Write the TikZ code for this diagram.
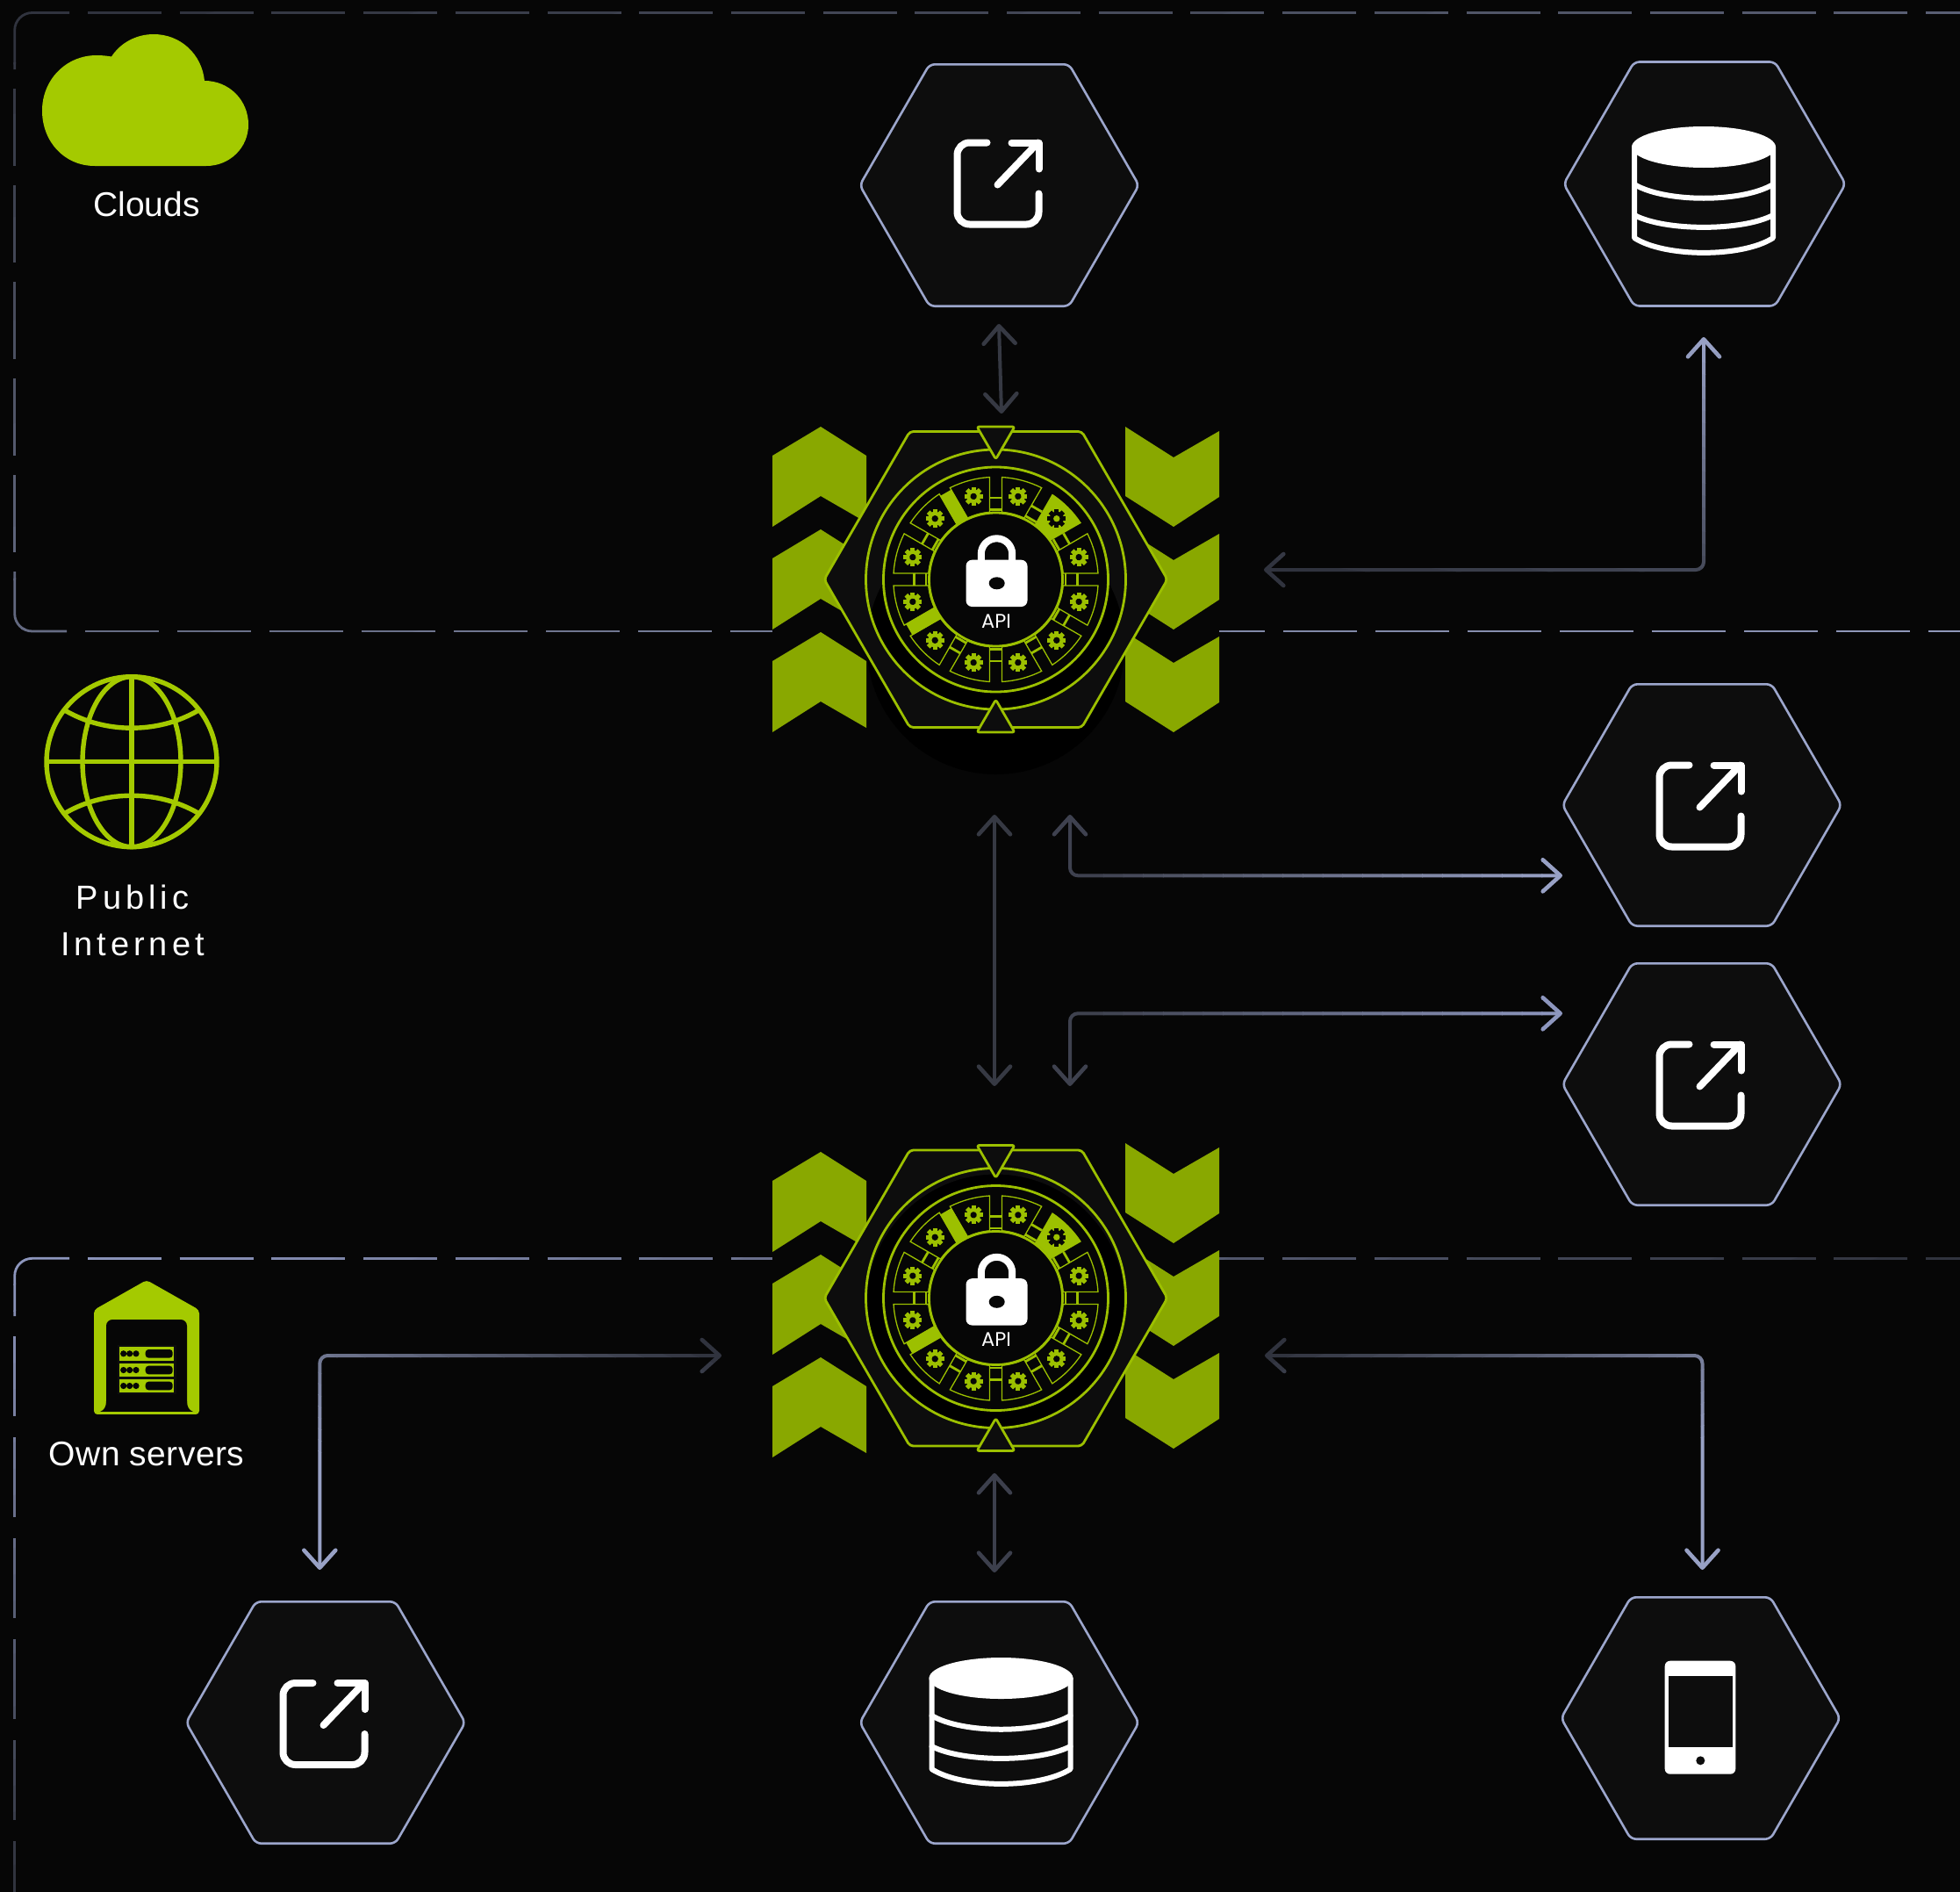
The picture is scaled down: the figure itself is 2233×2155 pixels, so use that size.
\documentclass[tikz,border=0pt]{standalone}
\usepackage{fontspec}
\setmainfont{Liberation Sans}
\newfontfamily\apifont{Poppins}
\usetikzlibrary{arrows.meta,shapes.geometric}
\definecolor{bgc}{HTML}{060606}
\definecolor{hexc}{HTML}{0D0D0D}
\definecolor{hexline}{HTML}{9CA6CC}
\definecolor{lime}{HTML}{A4CA00}
\definecolor{limeline}{HTML}{9CC000}
\definecolor{chev}{HTML}{89A800}
\definecolor{dimc}{HTML}{363943}
\definecolor{dimd}{HTML}{2E313B}
\definecolor{midd}{HTML}{3C3F4C}
\definecolor{bright}{HTML}{9AA3C8}
\definecolor{brightb}{HTML}{8F98C0}
\tikzset{
  hexnode/.style={regular polygon,regular polygon sides=6,minimum size=318pt,inner sep=0pt,outer sep=0pt,draw=hexline,fill=hexc,line width=2.6pt,rounded corners=6pt},
  iconline/.style={draw=white,line width=8pt,line cap=round,line join=round},
  dbline/.style={draw=white,line width=6pt,line cap=round,line join=round},
  conn/.style={line width=4pt,line cap=round,line join=round,rounded corners=9pt,{Straight Barb[length=20pt,width=36pt,line width=4.6pt,round]}-{Straight Barb[length=20pt,width=36pt,line width=4.6pt,round]}},
  frameline/.style={line width=2.8pt,rounded corners=20pt},
  gadgetline/.style={draw=limeline,line width=2.8pt},
  thinline/.style={draw=limeline,line width=1.3pt},
  label/.style={text=white,font=\fontsize{39pt}{39pt}\selectfont,inner sep=0pt,anchor=base},
}
% gradient stroke: strips across the direction (#3,#4) starting at (#1,#2)
\newcommand\gradstroke[8]{%
  \foreach \gi in {0,...,23}{%
    \pgfmathsetmacro\ta{\gi==0 ? -3 : (\gi-0.04)/24}%
    \pgfmathsetmacro\tb{\gi==23 ? 3 : (\gi+1)/24}%
    \pgfmathsetmacro\pc{100*(\gi+0.5)/24}%
    \begin{scope}
      \clip ({#1+\ta*(#3)-6*(#4)},{#2+\ta*(#4)+6*(#3)})
        -- ({#1+\tb*(#3)-6*(#4)},{#2+\tb*(#4)+6*(#3)})
        -- ({#1+\tb*(#3)+6*(#4)},{#2+\tb*(#4)-6*(#3)})
        -- ({#1+\ta*(#3)+6*(#4)},{#2+\ta*(#4)-6*(#3)}) -- cycle;
      \draw[#7,draw={#6!\pc!#5}] #8;
    \end{scope}}%
}
\newcommand\exporticon[2]{%
  \begin{scope}[shift={(#1,#2)}]
    \draw[iconline,rounded corners=14pt] (-13.5,-49) -- (-47.5,-49) -- (-47.5,44) -- (45.5,44) -- (45.5,9);
    \draw[iconline] (-1.5,-1) -- (44.5,-49);
    \draw[iconline] (14.5,-49) -- (45.5,-49) -- (45.5,-19);
  \end{scope}}
\newcommand\dbicon[2]{%
  \begin{scope}[shift={(#1,#2)}]
    \fill[white] (-1,-42) ellipse [x radius=82,y radius=23.5];
    \draw[dbline] (-80,-42) -- (-80,61.5) .. controls (-45,84) and (43,84) .. (78,61.5) -- (78,-42);
    \draw[dbline] (-80,0.5) .. controls (-45,21.5) and (43,21.5) .. (78,0.5);
    \draw[dbline] (-80,35.5) .. controls (-45,54) and (43,54) .. (78,35.5);
  \end{scope}}
\newcommand\gear[3]{% compass angle, colour, hole
  \begin{scope}[rotate=-#1,shift={(0,98)}]
    \fill[#2] (0,0) circle (8);
    \foreach \ga in {0,45,...,315}{\fill[#2,rotate=\ga+#1] (-2.5,6) rectangle (2.5,10.6);}
    \fill[#3] (0,0) circle (3.7);
  \end{scope}}
\newcommand\gadget[6]{% cx, cy, left chevron y, right chevron y, shadow offset, name
  \foreach \cy in {#3,#3+117,#3+234}{%
    \fill[chev] (935,\cy) -- (987,\cy+33) -- (987,\cy+109) -- (935,\cy+79) -- (880,\cy+114) -- (880,\cy+33) -- cycle;}
  \foreach \cy in {#4,#4+117,#4+234}{%
    \fill[chev] (1282,\cy) -- (1337,\cy+35) -- (1389,\cy+5) -- (1389,\cy+80) -- (1337,\cy+114) -- (1282,\cy+79) -- cycle;}
  \begin{scope}[shift={(#1,#2)},y=1pt]
    \draw[gadgetline,fill=hexc,rounded corners=4pt,line join=round] (-195.5,0) -- (-98,168.5) -- (98,168.5) -- (195.5,0) -- (98,-168.5) -- (-98,-168.5) -- cycle;
    \fill[black] (0,0) circle (148);
    \begin{scope}
      \clip (0,0) circle (148);
      \fill[hexc,even odd rule] (0,0) circle (149) (0,-#5) circle (147);
    \end{scope}
    \draw[gadgetline] (0,0) circle (148);
    \draw[gadgetline,fill=bgc] (0,0) circle (128);
    % sectors
    \foreach \sa in {15,75,105,135,165,195,225,255,285,315,345}{%
      \begin{scope}[rotate=-\sa]
        \draw[thinline] (78.44:116.7) arc[start angle=78.44,end angle=101.56,radius=116.7] -- (99.72:77) arc[start angle=99.72,end angle=80.28,radius=77] -- cycle;
      \end{scope}
      \gear{\sa}{limeline}{bgc}}
    \begin{scope}[rotate=-45]
      \fill[limeline] (78.44:116.7) arc[start angle=78.44,end angle=101.56,radius=116.7] -- (99.72:77) arc[start angle=99.72,end angle=80.28,radius=77] -- cycle;
    \end{scope}
    \gear{45}{bgc}{limeline}
    % links between sectors
    \foreach \sa in {0,30,60,90,120,150,180,210,270,300}{%
      \begin{scope}[rotate=-\sa]
        \draw[gadgetline] (-7,93) -- (7,93) (-7,79.5) -- (7,79.5);
      \end{scope}}
    \foreach \sa in {240,330}{%
      \begin{scope}[rotate=-\sa]
        \fill[limeline] (-7.5,76) rectangle (7.5,114);
      \end{scope}}
    \draw[gadgetline,fill=bgc] (0,0) circle (76);
    % triangles
    \draw[gadgetline,fill=hexc,rounded corners=2.5pt,line join=round] (-21.5,174) -- (21.5,174) -- (0,137) -- cycle;
    \draw[gadgetline,fill=hexc,rounded corners=2.5pt,line join=round] (-21.5,-174) -- (21.5,-174) -- (0,-137) -- cycle;
    % lock
    \draw[white,line width=8pt] (-16.7,-0) -- (-16.7,29) arc[start angle=180,end angle=0,radius=17.7] -- (18.7,0);
    \fill[white,rounded corners=7pt] (-34,-31) rectangle (36,22.3);
    \fill[bgc] (1.2,-4.3) ellipse [x radius=9,y radius=7];
    \node[inner sep=0pt,anchor=base,text=white,font=\apifont\fontsize{22.5pt}{22.5pt}\selectfont] (#6) at (0.5,-55) {API};
  \end{scope}}
\begin{document}
\begin{tikzpicture}[x=1pt,y=-1pt]
\useasboundingbox (0,0) rectangle (2233,2155);
\fill[bgc] (0,0) rectangle (2233,2155);

% region frames
\coordinate (fa) at (2240,14.5);
\coordinate (fb) at (100,14.5);
\coordinate (fc) at (16.7,14.5);
\coordinate (fd) at (16.7,79);
\coordinate (fe) at (79,14.5);
\coordinate (ff) at (16.7,101);
\coordinate (fg) at (16.7,640);
\coordinate (fh) at (16.7,651);
\coordinate (fi) at (16.7,719);
\coordinate (fj) at (76,719);
\coordinate (fk) at (97,719);
\coordinate (fl) at (2240,719);
\gradstroke{16.7}{14.5}{336}{1325}{dimd}{bright}{frameline,dash pattern=on 84pt off 20.7pt}{(fb) -- (fa)}
\gradstroke{16.7}{14.5}{336}{1325}{dimd}{bright}{frameline}{(fe) -- (fc) -- (fd)}
\gradstroke{16.7}{14.5}{336}{1325}{dimd}{bright}{frameline,dash pattern=on 88pt off 22pt}{(ff) -- (fg)}
\gradstroke{16.7}{14.5}{336}{1325}{dimd}{bright}{frameline}{(fh) -- (fi) -- (fj)}
\gradstroke{16.7}{14.5}{336}{1325}{dimd}{bright}{frameline,dash pattern=on 84pt off 21pt}{(fk) -- (fl)}

\coordinate (ma) at (2240,1433.3);
\coordinate (mb) at (100,1433.3);
\coordinate (mc) at (16.7,1433.3);
\coordinate (md) at (16.7,1499);
\coordinate (me) at (79,1433.3);
\coordinate (mf) at (16.7,1522);
\coordinate (mg) at (16.7,2165);
\gradstroke{16.7}{1433.3}{212.6}{652.8}{brightb}{dimd}{frameline,dash pattern=on 84pt off 20.7pt}{(mb) -- (ma)}
\gradstroke{16.7}{1433.3}{212.6}{652.8}{brightb}{dimd}{frameline}{(me) -- (mc) -- (md)}
\gradstroke{16.7}{1433.3}{212.6}{652.8}{brightb}{dimd}{frameline,dash pattern=on 91pt off 24pt}{(mf) -- (mg)}

% the frames stop at the gadgets
\fill[bgc] (880,712) rectangle (1389,726);
\fill[bgc] (880,1426) rectangle (1389,1440);

% shadow under the first gadget
\fill[black] (1134.5,735) circle (147);

% gadgets
\gadget{1134.5}{660}{486}{486}{75}{api1}
\gadget{1134.5}{1478.5}{1312}{1302}{6}{api2}

% hexagon nodes
\node[hexnode] (h1) at (1138.5,211) {};
\node[hexnode,minimum size=321pt] (h2) at (1942,209.5) {};
\node[hexnode] (h3) at (1939,917) {};
\node[hexnode] (h4) at (1939,1235) {};
\node[hexnode] (h5) at (371,1962) {};
\node[hexnode] (h6) at (1138.5,1962) {};
\node[hexnode] (h7) at (1937.5,1957) {};

% icons in the hexagons
\exporticon{1138}{211.5}
\dbicon{1942}{209.5}
\exporticon{1938}{920.5}
\exporticon{1938}{1238.5}
\exporticon{370}{1966}
\dbicon{1141.5}{1953.5}
\fill[white,rounded corners=6pt] (1896.7,1891.7) rectangle (1977.3,2020.7);
\fill[hexc] (1900.7,1909.3) rectangle (1973.7,1990);
\fill[hexc] (1937.3,2005.3) circle (5);

% connectors
\coordinate (a1) at (1138,369);  \coordinate (a2) at (1141,471);
\coordinate (b1) at (1133,928);  \coordinate (b2) at (1133,1237);
\coordinate (c1) at (1219,928);  \coordinate (c2) at (1219,997.3); \coordinate (c3) at (1780,997.3);
\coordinate (d1) at (1219,1237); \coordinate (d2) at (1219,1154.3); \coordinate (d3) at (1780,1154.3);
\coordinate (e1) at (1440,649);  \coordinate (e2) at (1941,649);   \coordinate (e3) at (1941,384);
\coordinate (f1) at (822,1544);  \coordinate (f2) at (364.3,1544); \coordinate (f3) at (364.3,1788);
\coordinate (g1) at (1441,1544); \coordinate (g2) at (1939.5,1544); \coordinate (g3) at (1939.5,1788);
\coordinate (k1) at (1133,1678); \coordinate (k2) at (1133,1791);

\draw[conn,draw=dimc] (a1) -- (a2);
\draw[conn,draw=dimc] (b1) -- (b2);
\draw[conn,draw=midd] (k1) -- (k2);
\gradstroke{1235}{997}{545}{0}{midd}{bright}{conn}{(c1) -- (c2) -- (c3)}
\gradstroke{1235}{1154}{545}{0}{midd}{brightb}{conn}{(d1) -- (d2) -- (d3)}
\gradstroke{1440}{649}{43}{-325}{dimd}{bright}{conn}{(e1) -- (e2) -- (e3)}
\gradstroke{822}{1544}{-106.5}{264}{dimd}{bright}{conn}{(f1) -- (f2) -- (f3)}
\gradstroke{1441}{1544}{106.5}{264}{dimd}{bright}{conn}{(g1) -- (g2) -- (g3)}

% cloud
\fill[lime] (108,189) .. controls (73,189) and (48,161) .. (48,126)
  .. controls (48,91) and (75,63) .. (110,63) .. controls (116,63) and (121,63.5) .. (127,64.5)
  .. controls (137,49) and (155,39) .. (175,39) .. controls (206,39) and (230,62) .. (233,92)
  .. controls (261,92) and (283,114) .. (283,142) .. controls (283,168) and (262,189) .. (235,189) -- cycle;
\node[label] (clouds) at (167,246) {Clouds};

% globe
\begin{scope}[shift={(150,867.7)},line width=5.4pt]
  \draw[lime] (0,0) circle (97);
  \draw[lime] (0,0) ellipse [x radius=56,y radius=97];
  \draw[lime] (-97,0) -- (97,0) (0,-97) -- (0,97);
  \draw[lime] (-75,-58) .. controls (-30,-32) and (30,-32) .. (75,-58);
  \draw[lime] (-75,58) .. controls (-30,32) and (30,32) .. (75,58);
\end{scope}
\node[label,align=center,font=\fontsize{38pt}{53pt}\selectfont\addfontfeature{LetterSpace=13},anchor=center] (internet) at (151,1048) {Public\\Internet};

% warehouse
\fill[lime,rounded corners=4pt] (167,1458) -- (227,1492) -- (227,1611) -- (107,1611) -- (107,1492) -- cycle;
\fill[bgc,rounded corners=7pt] (121,1625) -- (121,1503) -- (213,1503) -- (213,1625) -- cycle;
\fill[bgc] (114,1608) .. controls (119,1606) and (121,1602) .. (121,1596) -- (213,1596) .. controls (213,1602) and (215,1606) .. (220,1608) -- cycle;
\fill[bgc] (121,1590) rectangle (213,1608);
\fill[lime] (112,1608) rectangle (222,1611);
\fill[bgc] (107,1611) rectangle (227,1625);
\fill[hexc] (133.5,1532) rectangle (200.5,1588);
\foreach \ry in {1534,1552.7,1570.7}{%
  \fill[lime] (136,\ry) rectangle (198,\ry+15.6);
  \fill[bgc] (140.7,\ry+7.8) circle (3.6) (147.7,\ry+7.8) circle (3.6) (155,\ry+7.8) circle (3.6);
  \fill[bgc,rounded corners=3.5pt] (165.7,\ry+3) rectangle (196.7,\ry+12.6);
}
\node[label,font=\fontsize{39pt}{39pt}\selectfont\addfontfeature{LetterSpace=1}] (own) at (167,1669) {Own servers};
\end{tikzpicture}
\end{document}
